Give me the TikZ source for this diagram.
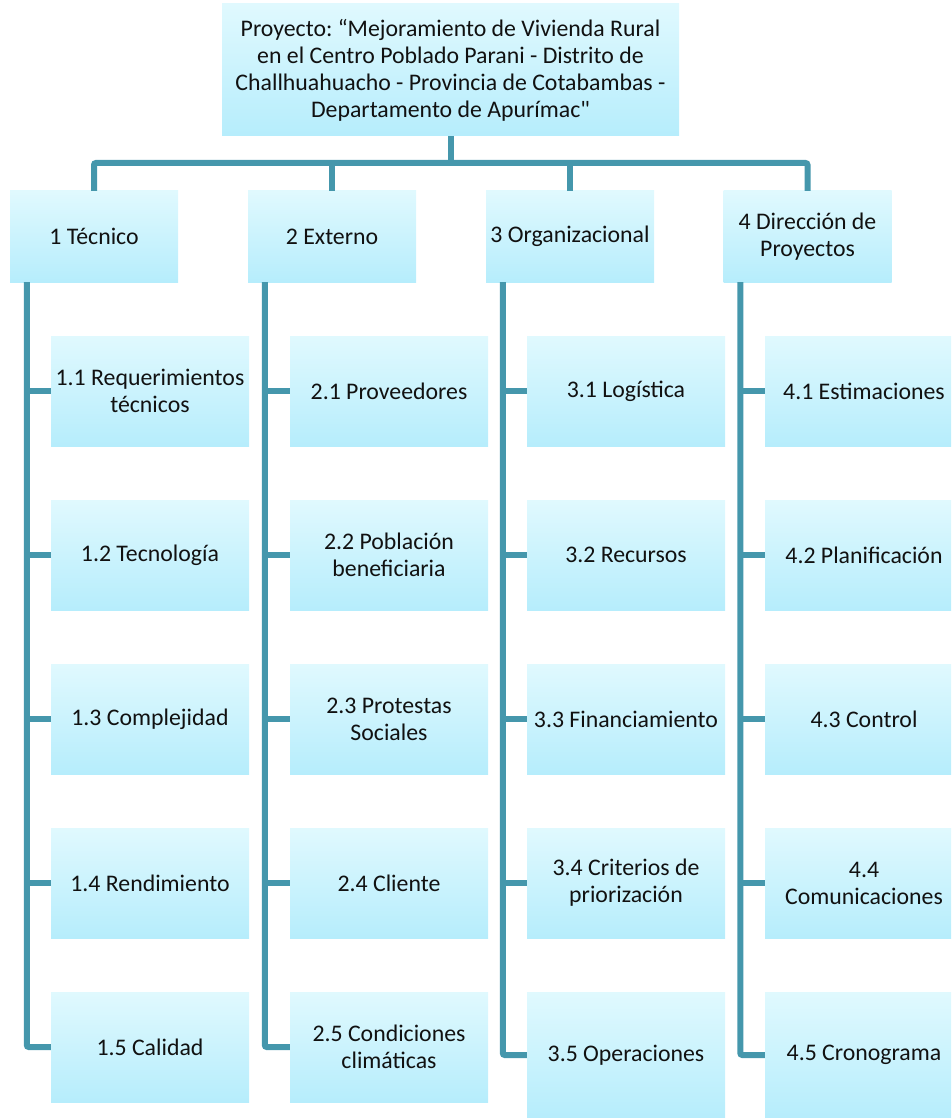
\documentclass[tikz,border=0pt]{standalone}
\usepackage{fontspec}
\setmainfont{Carlito}[Ligatures=TeXOff]
\frenchspacing
\definecolor{boxtop}{RGB}{224,249,254}
\definecolor{boxbot}{RGB}{182,237,252}
\definecolor{linec}{RGB}{69,151,172}
\definecolor{txt}{RGB}{17,17,17}
\begin{document}
\begin{tikzpicture}[x=1pt,y=-1pt,
  box/.style={rectangle, draw=none, top color=boxtop, bottom color=boxbot, inner sep=0pt,
    align=center, text=txt, font=\fontsize{23.8}{27}\selectfont},
  topbox/.style={box, minimum width=457pt, minimum height=132pt},
  lvbox/.style={box, minimum width=168pt, minimum height=91pt},
  chbox/.style={box, minimum width=198pt, minimum height=110pt},
  chboxtall/.style={box, minimum width=198pt, minimum height=125pt},
  conn/.style={draw=linec, line width=6pt, rounded corners=2pt}]
\useasboundingbox (0,0) rectangle (951,1118);
\clip (0,0) rectangle (951,1118);

\node[topbox] (top) at (450.5,70) {Proyecto: “Mejoramiento de Vivienda Rural\\en el Centro Poblado Parani - Distrito de\\Challhuahuacho - Provincia de Cotabambas -\\Departamento de Apurímac"};

\node[lvbox] (l1) at (94,236.5) {1 Técnico};
\node[lvbox] (l2) at (332,236.5) {2 Externo};
\node[lvbox] (l3) at (570,236.5) {3 Organizacional};
\node[lvbox] (l4) at (807.5,236.5) {4 Dirección de\\Proyectos};

\node[chbox] (c11) at (150,391) {1.1 Requerimientos\\técnicos};
\node[chbox] (c12) at (150,555) {1.2 Tecnología};
\node[chbox] (c13) at (150,719) {1.3 Complejidad};
\node[chbox] (c14) at (150,883) {1.4 Rendimiento};
\node[chbox] (c15) at (150,1047) {1.5 Calidad};

\node[chbox] (c21) at (389,391) {2.1 Proveedores};
\node[chbox] (c22) at (389,555) {2.2 Población\\beneficiaria};
\node[chbox] (c23) at (389,719) {2.3 Protestas\\Sociales};
\node[chbox] (c24) at (389,883) {2.4 Cliente};
\node[chbox] (c25) at (389,1047) {2.5 Condiciones\\climáticas};

\node[chbox] (c31) at (626,391) {3.1 Logística};
\node[chbox] (c32) at (626,555) {3.2 Recursos};
\node[chbox] (c33) at (626,719) {3.3 Financiamiento};
\node[chbox] (c34) at (626,883) {3.4 Criterios de\\priorización};
\node[chboxtall] (c35) at (626,1055) {3.5 Operaciones};

\node[chbox] (c41) at (864,391) {4.1 Estimaciones};
\node[chbox] (c42) at (864,555) {4.2 Planificación};
\node[chbox] (c43) at (864,719) {4.3 Control};
\node[chbox] (c44) at (864,883) {4.4\\Comunicaciones};
\node[chboxtall] (c45) at (864,1055) {4.5 Cronograma};

% bus
\coordinate (bus) at (450.5,163);
\draw[conn] (top.south) -- (bus);
\draw[conn] (l1.north) |- (bus) -| (l4.north);
\draw[conn] (l2.north) -- (l2.north |- bus);
\draw[conn] (l3.north) -- (l3.north |- bus);

% spines
\foreach \c in {1,2,3,4}{
  \coordinate (s\c) at ([xshift=17pt]l\c.south west);
  \draw[conn] (s\c) |- (c\c5.west);
  \foreach \r in {1,2,3,4}{
    \draw[conn] (c\c\r.west) -- (c\c\r.west -| s\c);
  }
}
\end{tikzpicture}
\end{document}
